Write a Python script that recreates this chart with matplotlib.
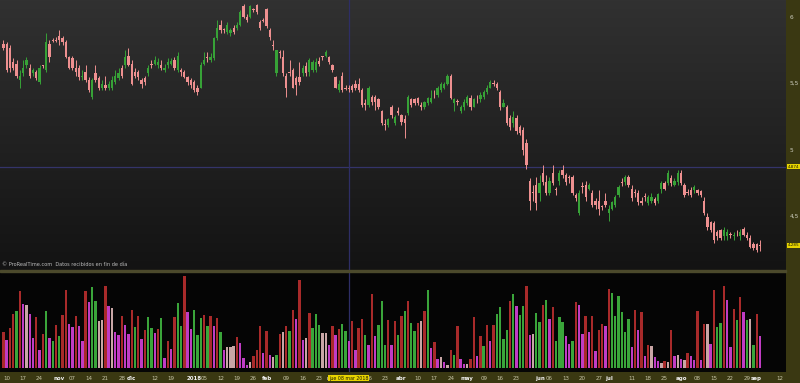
import numpy as np
import pandas as pd
import matplotlib
matplotlib.use('Agg')
import matplotlib.pyplot as plt
from matplotlib.colors import LinearSegmentedColormap

W, H = 800, 383

# trading calendar (Bolsa de Madrid holidays removed)
HOLIDAYS = ['2017-12-25', '2017-12-26', '2018-01-01', '2018-03-30', '2018-04-02', '2018-05-01']
DAYS = pd.bdate_range('2017-10-09', '2018-09-14')
DAYS = DAYS[~DAYS.isin(pd.to_datetime(HOLIDAYS))]

# daily OHLC (Oct 9 2017 .. Sep 4 2018)
opens = [5.80, 5.80, 5.77, 5.66, 5.65, 5.53, 5.58, 5.64, 5.62, 5.58, 5.59, 5.51, 5.64, 5.60, 5.80, 5.83, 5.83, 5.86, 5.84, 5.81,
         5.70, 5.69, 5.62, 5.62, 5.55, 5.59, 5.53, 5.40, 5.58, 5.54, 5.47, 5.49, 5.47, 5.47, 5.51, 5.54, 5.62, 5.64, 5.71, 5.65,
         5.59, 5.59, 5.53, 5.54, 5.58, 5.65, 5.65, 5.64, 5.64, 5.60, 5.64, 5.65, 5.68, 5.60, 5.60, 5.59, 5.55, 5.53, 5.51, 5.47,
         5.47, 5.65, 5.69, 5.68, 5.69, 5.84, 5.94, 5.91, 5.89, 5.88, 5.92, 5.92, 5.94, 6.08, 6.00, 6.00, 6.06, 6.09, 5.96, 5.98,
         6.06, 5.90, 5.79, 5.58, 5.73, 5.70, 5.56, 5.59, 5.60, 5.54, 5.55, 5.58, 5.63, 5.59, 5.60, 5.60, 5.67, 5.70, 5.71, 5.70,
         5.64, 5.55, 5.45, 5.56, 5.47, 5.47, 5.48, 5.50, 5.50, 5.45, 5.35, 5.34, 5.40, 5.40, 5.38, 5.29, 5.19, 5.19, 5.32, 5.20,
         5.29, 5.26, 5.23, 5.28, 5.38, 5.38, 5.39, 5.34, 5.32, 5.35, 5.36, 5.41, 5.41, 5.45, 5.47, 5.50, 5.56, 5.35, 5.36, 5.29,
         5.32, 5.35, 5.39, 5.32, 5.38, 5.38, 5.40, 5.44, 5.47, 5.50, 5.50, 5.44, 5.32, 5.32, 5.24, 5.20, 5.24, 5.17, 5.15, 5.05,
         4.77, 4.68, 4.74, 4.68, 4.83, 4.76, 4.68, 4.83, 4.70, 4.77, 4.85, 4.81, 4.79, 4.80, 4.66, 4.53, 4.72, 4.74, 4.71, 4.68,
         4.62, 4.62, 4.57, 4.62, 4.53, 4.56, 4.59, 4.66, 4.75, 4.76, 4.80, 4.71, 4.68, 4.68, 4.62, 4.65, 4.60, 4.62, 4.63, 4.62,
         4.71, 4.75, 4.75, 4.79, 4.74, 4.76, 4.83, 4.74, 4.68, 4.70, 4.70, 4.70, 4.69, 4.62, 4.50, 4.46, 4.45, 4.38, 4.40, 4.35,
         4.35, 4.36, 4.35, 4.38, 4.35, 4.41, 4.36, 4.34, 4.29, 4.29, 4.28]
closes = [5.77, 5.60, 5.62, 5.62, 5.56, 5.56, 5.62, 5.68, 5.56, 5.60, 5.54, 5.62, 5.63, 5.81, 5.70, 5.82, 5.82, 5.83, 5.81, 5.70,
          5.62, 5.62, 5.59, 5.55, 5.56, 5.53, 5.45, 5.53, 5.53, 5.47, 5.50, 5.47, 5.50, 5.53, 5.56, 5.58, 5.56, 5.70, 5.64, 5.50,
          5.56, 5.55, 5.50, 5.51, 5.62, 5.64, 5.68, 5.66, 5.62, 5.62, 5.66, 5.67, 5.62, 5.71, 5.59, 5.55, 5.51, 5.49, 5.45, 5.44,
          5.64, 5.68, 5.69, 5.70, 5.84, 5.92, 5.90, 5.90, 5.94, 5.90, 5.89, 5.94, 6.04, 6.00, 5.98, 6.08, 6.05, 6.04, 5.92, 5.97,
          5.93, 5.85, 5.78, 5.75, 5.73, 5.58, 5.47, 5.58, 5.47, 5.49, 5.51, 5.62, 5.58, 5.68, 5.66, 5.66, 5.65, 5.70, 5.74, 5.66,
          5.60, 5.47, 5.50, 5.45, 5.46, 5.46, 5.45, 5.47, 5.45, 5.34, 5.34, 5.47, 5.36, 5.36, 5.32, 5.20, 5.19, 5.23, 5.26, 5.25,
          5.28, 5.21, 5.20, 5.40, 5.34, 5.35, 5.35, 5.32, 5.36, 5.39, 5.39, 5.41, 5.47, 5.50, 5.50, 5.56, 5.39, 5.38, 5.36, 5.32,
          5.36, 5.40, 5.32, 5.38, 5.38, 5.41, 5.44, 5.47, 5.51, 5.50, 5.47, 5.32, 5.35, 5.20, 5.17, 5.25, 5.14, 5.13, 5.00, 4.89,
          4.62, 4.68, 4.60, 4.75, 4.76, 4.68, 4.77, 4.75, 4.70, 4.83, 4.81, 4.76, 4.79, 4.68, 4.64, 4.68, 4.72, 4.65, 4.74, 4.59,
          4.59, 4.56, 4.57, 4.59, 4.56, 4.61, 4.65, 4.72, 4.75, 4.80, 4.74, 4.64, 4.68, 4.61, 4.60, 4.65, 4.65, 4.65, 4.60, 4.67,
          4.75, 4.71, 4.83, 4.75, 4.77, 4.83, 4.75, 4.66, 4.68, 4.66, 4.72, 4.68, 4.66, 4.53, 4.42, 4.40, 4.32, 4.35, 4.34, 4.40,
          4.38, 4.36, 4.36, 4.38, 4.38, 4.36, 4.34, 4.27, 4.26, 4.25, 4.28]
highs = [5.83, 5.81, 5.79, 5.69, 5.68, 5.60, 5.68, 5.70, 5.65, 5.62, 5.60, 5.64, 5.64, 5.88, 5.83, 5.84, 5.85, 5.90, 5.86, 5.83,
         5.71, 5.71, 5.68, 5.64, 5.60, 5.64, 5.55, 5.54, 5.64, 5.56, 5.53, 5.56, 5.52, 5.56, 5.60, 5.62, 5.64, 5.75, 5.77, 5.68,
         5.62, 5.60, 5.54, 5.56, 5.64, 5.68, 5.71, 5.69, 5.68, 5.65, 5.69, 5.69, 5.70, 5.74, 5.62, 5.60, 5.56, 5.54, 5.53, 5.49,
         5.66, 5.74, 5.74, 5.73, 5.85, 5.98, 5.98, 5.92, 5.96, 5.92, 5.94, 5.96, 6.05, 6.10, 6.02, 6.09, 6.07, 6.10, 5.98, 5.99,
         6.07, 5.92, 5.83, 5.75, 5.75, 5.75, 5.58, 5.68, 5.62, 5.56, 5.66, 5.64, 5.66, 5.69, 5.68, 5.69, 5.70, 5.71, 5.75, 5.71,
         5.65, 5.56, 5.53, 5.59, 5.49, 5.49, 5.50, 5.53, 5.54, 5.47, 5.38, 5.48, 5.41, 5.41, 5.39, 5.30, 5.23, 5.24, 5.34, 5.26,
         5.32, 5.27, 5.26, 5.41, 5.39, 5.39, 5.40, 5.36, 5.37, 5.40, 5.45, 5.45, 5.48, 5.51, 5.51, 5.57, 5.57, 5.39, 5.38, 5.34,
         5.38, 5.41, 5.41, 5.39, 5.41, 5.44, 5.45, 5.49, 5.53, 5.53, 5.51, 5.45, 5.38, 5.34, 5.26, 5.29, 5.26, 5.19, 5.17, 5.08,
         4.79, 4.74, 4.80, 4.81, 4.89, 4.81, 4.80, 4.89, 4.72, 4.85, 4.89, 4.83, 4.81, 4.81, 4.68, 4.70, 4.76, 4.77, 4.75, 4.70,
         4.64, 4.70, 4.59, 4.68, 4.59, 4.62, 4.66, 4.74, 4.79, 4.81, 4.81, 4.74, 4.71, 4.70, 4.65, 4.68, 4.66, 4.68, 4.65, 4.68,
         4.77, 4.77, 4.85, 4.81, 4.79, 4.85, 4.85, 4.75, 4.71, 4.72, 4.74, 4.71, 4.70, 4.65, 4.53, 4.47, 4.47, 4.40, 4.41, 4.42,
         4.41, 4.38, 4.38, 4.40, 4.41, 4.42, 4.38, 4.36, 4.31, 4.30, 4.32]
lows = [5.75, 5.59, 5.59, 5.60, 5.54, 5.47, 5.56, 5.62, 5.54, 5.56, 5.53, 5.50, 5.62, 5.59, 5.66, 5.81, 5.81, 5.79, 5.79, 5.69,
        5.61, 5.60, 5.56, 5.53, 5.53, 5.51, 5.44, 5.38, 5.51, 5.45, 5.45, 5.45, 5.45, 5.45, 5.50, 5.53, 5.54, 5.62, 5.63, 5.49,
        5.54, 5.53, 5.47, 5.49, 5.56, 5.62, 5.64, 5.62, 5.60, 5.59, 5.62, 5.64, 5.60, 5.59, 5.56, 5.54, 5.49, 5.47, 5.44, 5.41,
        5.47, 5.64, 5.66, 5.66, 5.68, 5.83, 5.88, 5.88, 5.87, 5.86, 5.87, 5.90, 5.93, 5.99, 5.96, 5.99, 6.04, 6.02, 5.90, 5.96,
        5.92, 5.83, 5.75, 5.56, 5.69, 5.56, 5.40, 5.56, 5.47, 5.41, 5.49, 5.56, 5.56, 5.56, 5.59, 5.59, 5.63, 5.68, 5.70, 5.65,
        5.59, 5.47, 5.44, 5.44, 5.45, 5.44, 5.44, 5.45, 5.44, 5.32, 5.30, 5.32, 5.34, 5.30, 5.31, 5.19, 5.15, 5.17, 5.24, 5.19,
        5.26, 5.19, 5.09, 5.26, 5.32, 5.34, 5.34, 5.30, 5.31, 5.34, 5.35, 5.39, 5.40, 5.44, 5.46, 5.49, 5.38, 5.29, 5.34, 5.28,
        5.30, 5.34, 5.30, 5.32, 5.35, 5.36, 5.38, 5.42, 5.47, 5.48, 5.45, 5.30, 5.32, 5.19, 5.15, 5.17, 5.12, 5.11, 4.96, 4.86,
        4.55, 4.62, 4.55, 4.62, 4.74, 4.66, 4.66, 4.74, 4.66, 4.74, 4.79, 4.74, 4.75, 4.66, 4.62, 4.51, 4.68, 4.62, 4.70, 4.57,
        4.56, 4.51, 4.55, 4.57, 4.47, 4.55, 4.57, 4.65, 4.73, 4.74, 4.72, 4.62, 4.65, 4.59, 4.59, 4.62, 4.59, 4.60, 4.59, 4.60,
        4.68, 4.70, 4.74, 4.73, 4.73, 4.74, 4.74, 4.65, 4.66, 4.65, 4.68, 4.66, 4.65, 4.51, 4.40, 4.38, 4.30, 4.32, 4.32, 4.32,
        4.32, 4.34, 4.32, 4.35, 4.32, 4.35, 4.32, 4.26, 4.25, 4.23, 4.24]

# volume (relative units) and the bar colour code shown by the platform
volume = [36, 28, 40, 54, 57, 77, 64, 63, 54, 30, 51, 18, 34, 57, 30, 27, 43, 32, 53, 78,
          44, 41, 52, 42, 27, 77, 66, 81, 67, 47, 48, 82, 62, 60, 36, 33, 52, 43, 34, 58,
          41, 52, 29, 38, 51, 40, 35, 39, 50, 10, 27, 19, 51, 65, 42, 92, 56, 39, 58, 33,
          50, 53, 42, 52, 42, 50, 36, 18, 21, 21, 22, 31, 25, 10, 3, 6, 12, 18, 42, 15,
          37, 13, 11, 13, 34, 36, 42, 37, 58, 49, 88, 28, 30, 55, 40, 54, 43, 35, 35, 23,
          42, 33, 39, 44, 37, 27, 47, 18, 40, 49, 33, 23, 74, 32, 43, 67, 23, 48, 23, 47,
          33, 52, 57, 67, 45, 37, 45, 47, 57, 78, 20, 26, 9, 11, 6, 3, 18, 13, 42, 9,
          4, 4, 9, 51, 12, 32, 22, 43, 27, 43, 54, 61, 29, 38, 67, 74, 62, 53, 62, 82,
          33, 34, 55, 46, 63, 68, 49, 61, 27, 51, 46, 32, 24, 27, 66, 63, 34, 52, 36, 52,
          17, 38, 44, 42, 79, 75, 52, 72, 56, 36, 49, 21, 58, 38, 56, 12, 23, 22, 11, 7,
          5, 7, 6, 38, 12, 13, 9, 8, 15, 12, 8, 57, 8, 44, 44, 24, 78, 41, 45, 82,
          68, 21, 59, 48, 71, 56, 48, 49, 23, 54, 32]
vol_kind = list(''.join('''
rmrrgrmwmm rmrgmgrgrr mmrmmrmggw wrmwmmrmmr grmrggmrgm rmrggrmmgg grgrmrgmww wrmmmwrrrm rm
wgrwrgrmrm wrgggwwmrm rggmrmrrgm rmgggrmrgr grggrwrgmr mwmwrgrmmw rrmrgrmrgg ggrgmggrmw gg
rgmrgggmmg rmmrmrmrrm rggggggmrm rmrwmmwrwr mwmwrmmrmr wmrggrmmrg rmgwgrm
'''.split()))

TICK_DATES = ['2017-10-10', '2017-10-17', '2017-10-24', '2017-11-01', '2017-11-07', '2017-11-14', '2017-11-21',
              '2017-11-28', '2017-12-01', '2017-12-12', '2017-12-19', '2018-01-02', '2018-01-05', '2018-01-12',
              '2018-01-19', '2018-01-26', '2018-02-01', '2018-02-09', '2018-02-16', '2018-02-23', '2018-03-01',
              '2018-03-16', '2018-03-23', '2018-04-03', '2018-04-10', '2018-04-17', '2018-04-24', '2018-05-02',
              '2018-05-09', '2018-05-16', '2018-05-23', '2018-06-01', '2018-06-06', '2018-06-13', '2018-06-20',
              '2018-06-27', '2018-07-02', '2018-07-11', '2018-07-18', '2018-07-25', '2018-08-01', '2018-08-08',
              '2018-08-15', '2018-08-22', '2018-08-29', '2018-09-03', '2018-09-12']
TICK_LABELS = ['10', '17', '24', 'nov', '07', '14', '21', '28', 'dic', '12', '19', '2018', '05', '12', '19', '26',
               'feb', '09', '16', '23', 'mar', '16', '23', 'abr', '10', '17', '24', 'may', '09', '16', '23', 'jun',
               '06', '13', '20', '27', 'jul', '11', '18', '25', 'ago', '08', '15', '22', '29', 'sep', '12']
PRICE_TICKS = [6.0, 5.5, 5.0, 4.5]
PRICE_TICK_LABELS = ['6', '5,5', '5', '4,5']
CROSS_DATE = '2018-03-08'
CROSS_DATE_LABEL = 'jue 08 mar 2018'
CROSS_PRICE = 4.874
LAST_PRICE = 4.285

GREEN, PINK = '#37a237', '#ee9090'
VOL_COLORS = {'r': '#a82a2a', 'm': '#c03cc4', 'g': '#3aa53a', 'w': '#c9a6a6'}
OLIVE = '#3a3812'

n = len(opens)
idx = np.arange(n)
o, c, hi, lo = (np.array(a) for a in (opens, closes, highs, lows))
pos = {d: i for i, d in enumerate(DAYS)}
XL = (-1.03, 237.9)


def px_axes(fig, x0, y0, x1, y1, **kw):
    return fig.add_axes([x0 / W, 1 - y1 / H, (x1 - x0) / W, (y1 - y0) / H], **kw)


def bare(ax):
    ax.set_xticks([]); ax.set_yticks([])
    for s in ax.spines.values():
        s.set_visible(False)


fig = plt.figure(figsize=(W / 100, H / 100), dpi=100, facecolor='#0a0a0a')

# right price strip and bottom date strip
ax_r = px_axes(fig, 786, 0, 800, 383, facecolor=OLIVE); bare(ax_r)
ax_d = px_axes(fig, 0, 372, 786, 383, facecolor=OLIVE); bare(ax_d)
ax_d.set_xlim(*XL); ax_d.set_ylim(0, 1)

# price panel
ax = px_axes(fig, 0, 0, 786, 270); bare(ax)
ax.set_xlim(*XL); ax.set_ylim(4.098, 6.128)
grad = LinearSegmentedColormap.from_list('bg', ['#131313', '#313131'])
ax.imshow(np.linspace(0, 1, 256).reshape(-1, 1), cmap=grad, origin='lower', aspect='auto',
          extent=[XL[0], XL[1], 4.098, 6.128], zorder=0)
ax.axhline(CROSS_PRICE, color='#34346a', lw=0.9, zorder=1)
ax.axvline(pos[pd.Timestamp(CROSS_DATE)], color='#2e2e66', lw=0.9, zorder=1)
col = np.where(c > o, GREEN, PINK)
ax.vlines(idx, lo, hi, colors=col, lw=0.7, zorder=2)
ax.bar(idx, np.maximum(np.abs(c - o), 0.006), bottom=np.minimum(o, c), width=0.7, color=col, zorder=3)
ax.text(0.003, 0.012, '\u00a9 ProRealTime.com  Datos recibidos en fin de d\u00eda', transform=ax.transAxes,
        fontsize=3.6, color='#bdbdbd', va='bottom', ha='left')
for p, lab in zip(PRICE_TICKS, PRICE_TICK_LABELS):
    ax.text(1.0045, p, lab, transform=ax.get_yaxis_transform(), fontsize=4.2, color='#cfcfc0',
            va='center', ha='left', clip_on=False)
for p in (CROSS_PRICE, LAST_PRICE):
    ax.text(1.002, p, f'{p:.3f}'.replace('.', ','), transform=ax.get_yaxis_transform(), fontsize=3.0,
            color='#1a1a00', va='center', ha='left', clip_on=False,
            bbox=dict(boxstyle='square,pad=0.12', fc='#e8d400', ec='none'))

# separator between panels
fig.patches.append(plt.Rectangle((0, 1 - 272 / H), 786 / W, 2 / H, transform=fig.transFigure,
                                 color='#4c4a2c', zorder=5))

# volume panel
axv = px_axes(fig, 0, 272, 786, 372, facecolor='#050505'); bare(axv)
axv.set_xlim(*XL); axv.set_ylim(-4, 96)
axv.bar(idx, volume, width=0.72, color=[VOL_COLORS[k] for k in vol_kind], zorder=2)
axv.axvline(pos[pd.Timestamp(CROSS_DATE)], color='#2e2e66', lw=0.9, zorder=1)

# date labels
month_names = {'nov', 'dic', '2018', 'feb', 'mar', 'abr', 'may', 'jun', 'jul', 'ago', 'sep'}
for d, lab in zip(TICK_DATES, TICK_LABELS):
    bold = lab in month_names
    ax_d.text(pos[pd.Timestamp(d)], 0.45, lab, fontsize=4.0, ha='center', va='center',
              color='#f2f2f2' if bold else '#c8c6a8', fontweight='bold' if bold else 'normal')
ax_d.text(pos[pd.Timestamp(CROSS_DATE)], 0.45, CROSS_DATE_LABEL, fontsize=3.4, ha='center', va='center',
          color='#1a1a00', zorder=5, bbox=dict(boxstyle='square,pad=0.12', fc='#e8d400', ec='none'))

fig.savefig('out.png', dpi=100, facecolor=fig.get_facecolor())
